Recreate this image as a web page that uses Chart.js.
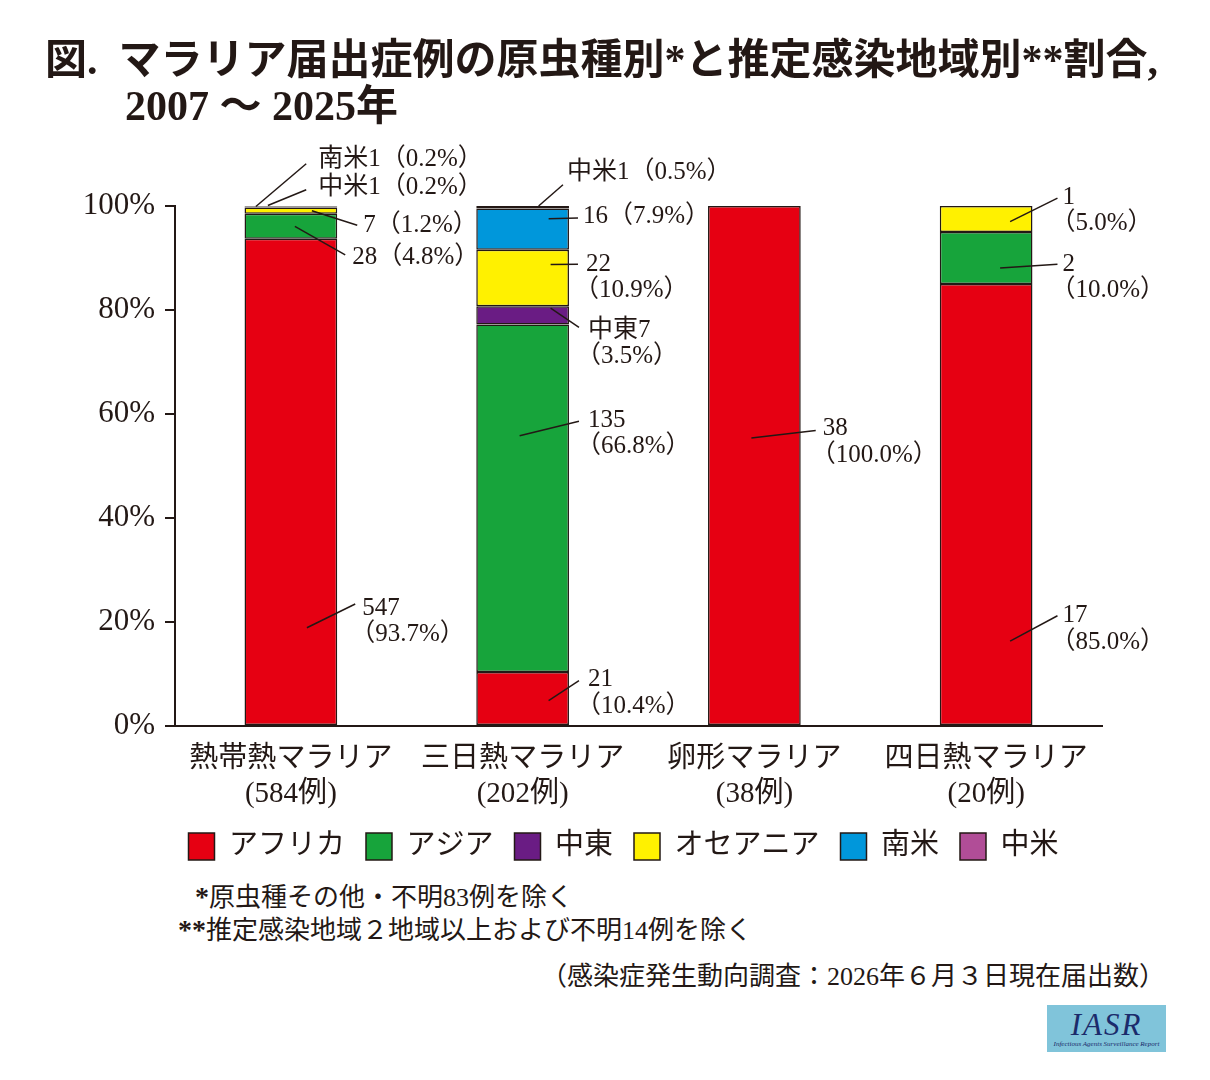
<!DOCTYPE html>
<html lang="ja">
<head>
<meta charset="utf-8">
<title>マラリア届出症例の原虫種別と推定感染地域別割合</title>
<script src="https://cdn.jsdelivr.net/npm/chart.js@4.4.1/dist/chart.umd.min.js"></script>
<style>
  body { margin: 0; background: #fff; color: #231815; font-family: "Liberation Serif", "Noto Sans CJK JP", serif; }
  #wrap { position: relative; width: 1210px; height: 1080px; overflow: hidden; }
  #chart { position: absolute; left: 0; top: 0; }
  #title { position: absolute; left: 45px; top: 37px; font-size: 42px; font-weight: bold; line-height: 46px; white-space: nowrap; }
  #title .yr { padding-left: 80px; }
  .note { position: absolute; font-size: 26px; line-height: 30px; white-space: nowrap; }
  .note b { font-weight: bold; font-size: 28px; }
  #logo { position: absolute; left: 1047px; top: 1005px; width: 119px; height: 47px; background: #80c4da;
          text-align: center; color: #1b2b6b; font-family: "Liberation Serif", serif; font-style: italic; }
  #logo .big { font-size: 31px; line-height: 31px; padding-top: 4px; letter-spacing: 2px; }
  #logo .small { font-size: 7px; line-height: 9px; }
</style>
</head>
<body>
<div id="wrap">
  <canvas id="chart" width="1210" height="881"></canvas>
  <div id="title">図.&nbsp;&nbsp;マラリア届出症例の原虫種別*と推定感染地域別**割合,<br><span class="yr">2007 ～ 2025年</span></div>
  <div class="note" style="left:195px; top:882px;"><b>*</b>原虫種その他・不明83例を除く</div>
  <div class="note" style="left:178px; top:915px;"><b>**</b>推定感染地域２地域以上および不明14例を除く</div>
  <div class="note" style="right:45px; top:962px;">（感染症発生動向調査：2026年６月３日現在届出数）</div>
  <div id="logo"><div class="big">IASR</div><div class="small">Infectious Agents Surveillance Report</div></div>
</div>
<script>
// categories
var species = ['熱帯熱マラリア', '三日熱マラリア', '卵形マラリア', '四日熱マラリア'];
var speciesTotals = [584, 202, 38, 20];
var regions = ['アフリカ', 'アジア', '中東', 'オセアニア', '南米', '中米'];
var regionColors = ['#e60012', '#17a43b', '#6a1c84', '#fff100', '#0097db', '#b14d97'];

// case counts per region (one value per species)
var africaCases = [547, 21, 38, 17];
var asiaCases = [28, 135, 0, 2];
var middleEastCases = [0, 7, 0, 0];
var oceaniaCases = [7, 22, 0, 1];
var southAmericaCases = [1, 16, 0, 0];
var centralAmericaCases = [1, 1, 0, 0];

// percentages as printed on the chart
var africaPct = [93.7, 10.4, 100.0, 85.0];
var asiaPct = [4.8, 66.8, 0, 10.0];
var middleEastPct = [0, 3.5, 0, 0];
var oceaniaPct = [1.2, 10.9, 0, 5.0];
var southAmericaPct = [0.2, 7.9, 0, 0];
var centralAmericaPct = [0.2, 0.5, 0, 0];

var yTicks = [0, 20, 40, 60, 80, 100];

var caseSeries = [africaCases, asiaCases, middleEastCases, oceaniaCases, southAmericaCases, centralAmericaCases];
var pctSeries = [africaPct, asiaPct, middleEastPct, oceaniaPct, southAmericaPct, centralAmericaPct];

var ink = '#231815';
var family = '"Liberation Serif", "Noto Sans CJK JP", serif';

// callout placement: ds/i pick the bar segment, at = where in the segment the leader starts,
// ax = leader start offset from bar centre, tx = text offset from bar right edge, tv = text row on the y scale
var callouts = [
    { ds: 4, i: 0, name: '南米', inline: true, at: 1,    ax: -35, tx: -19, tv: 108.9, ex: 12, ey: 4 },
    { ds: 5, i: 0, name: '中米', inline: true, at: 1,    ax: -23, tx: -19, tv: 103.5, ex: 12, ey: 2 },
    { ds: 3, i: 0, inline: true,               at: 0.5,  ax: 21,  tx: 26,  tv: 96.3,  ex: 6,  ey: 0 },
    { ds: 1, i: 0, inline: true,               at: 0.5,  ax: 4,   tx: 15,  tv: 90.2,  ex: 7,  ey: -2 },
    { ds: 0, i: 0,                             at: 0.2,  ax: 16,  tx: 25,  tv: 22.7,  ex: 7,  ey: -4 },
    { ds: 5, i: 1, name: '中米', inline: true, at: 1,    ax: 16,  tx: -2,  tv: 106.4, ex: 4,  ey: 12 },
    { ds: 4, i: 1, inline: true,               at: 0.75, ax: 26,  tx: 14,  tv: 97.9,  ex: 5,  ey: 1 },
    { ds: 3, i: 1,                             at: 0.74, ax: 28,  tx: 17,  tv: 88.8,  ex: 8,  ey: 0 },
    { ds: 2, i: 1, name: '中東',               at: 0.9,  ax: 28,  tx: 19,  tv: 76.1,  ex: 9,  ey: -3 },
    { ds: 1, i: 1,                             at: 0.68, ax: -3,  tx: 19,  tv: 58.8,  ex: 9,  ey: 1 },
    { ds: 0, i: 1,                             at: 0.46, ax: 26,  tx: 19,  tv: 8.9,   ex: 9,  ey: 1 },
    { ds: 0, i: 2,                             at: 0.553, ax: -3, tx: 22,  tv: 57.2,  ex: 7,  ey: 2 },
    { ds: 3, i: 3,                             at: 0.4,  ax: 24,  tx: 30,  tv: 101.7, ex: 5,  ey: 1 },
    { ds: 1, i: 3,                             at: 0.31, ax: 14,  tx: 30,  tv: 88.8,  ex: 5,  ey: 0 },
    { ds: 0, i: 3,                             at: 0.19, ax: 24,  tx: 30,  tv: 21.2,  ex: 5,  ey: 0 }
];

var calloutPlugin = {
    id: 'callouts',
    afterLayout: function (chart) {
        // legend sits a bit left of the plot centre in the original
        chart.legend.left -= 15;
        chart.legend.right -= 15;
    },
    afterDatasetsDraw: function (chart) {
        var ctx = chart.ctx;
        var yScale = chart.scales.y;
        ctx.save();
        ctx.strokeStyle = ink;
        ctx.fillStyle = ink;
        ctx.lineWidth = 1.5;
        ctx.font = '25px ' + family;
        ctx.textBaseline = 'middle';
        ctx.textAlign = 'left';
        for (var c of callouts) {
            var bar = chart.getDatasetMeta(c.ds).data[c.i];
            var ax = bar.x + c.ax;
            var ay = bar.base + (bar.y - bar.base) * c.at;
            var tx = bar.x + bar.width / 2 + c.tx;
            var ty = yScale.getPixelForValue(c.tv);
            ctx.beginPath();
            ctx.moveTo(ax, ay);
            ctx.lineTo(tx - c.ex, ty + c.ey);
            ctx.stroke();
            var count = (c.name || '') + caseSeries[c.ds][c.i];
            var pct = '（' + pctSeries[c.ds][c.i].toFixed(1) + '%）';
            if (c.inline) {
                ctx.fillText(count + pct, tx, ty);
            } else {
                ctx.fillText(count, tx, ty);
                // full-width paren sits right in its box, pull it back to line up
                ctx.fillText(pct, tx - 12, ty + 26.5);
            }
        }
        ctx.restore();
    }
};

new Chart(document.getElementById('chart'), {
    type: 'bar',
    data: {
        labels: species.map(function (s, k) { return [s, '(' + speciesTotals[k] + '例)']; }),
        datasets: regions.map(function (r, k) {
            return {
                label: r,
                // empty segments would still paint a border line, so leave them out
                data: pctSeries[k].map(function (v) { return v === 0 ? null : v; }),
                backgroundColor: regionColors[k],
                borderColor: ink,
                borderWidth: 1.5,
                borderSkipped: false,
                categoryPercentage: 1.0,
                barPercentage: 0.4
            };
        })
    },
    options: {
        responsive: false,
        animation: false,
        layout: { padding: { top: 206, left: 60, right: 108, bottom: 10 } },
        scales: {
            x: {
                stacked: true,
                afterFit: function (scale) { scale.height = 85; },
                grid: { display: false, drawTicks: false },
                border: { display: true, color: ink, width: 2 },
                ticks: { color: ink, padding: 16, font: { family: family, size: 29, lineHeight: 1.2 } }
            },
            y: {
                stacked: true,
                min: 0,
                max: 100,
                afterFit: function (scale) { scale.width = 115; },
                afterBuildTicks: function (scale) { scale.ticks = yTicks.map(function (v) { return { value: v }; }); },
                grid: { drawOnChartArea: false, drawTicks: true, tickLength: 10, color: ink, lineWidth: 2 },
                border: { display: true, color: ink, width: 2 },
                ticks: {
                    padding: 10,
                    color: ink,
                    font: { family: family, size: 31 },
                    callback: function (value) { return value + '%'; }
                }
            }
        },
        plugins: {
            legend: {
                position: 'bottom',
                fullSize: false,
                labels: { color: ink, boxWidth: 26, boxHeight: 27, padding: 21, font: { family: family, size: 29 } }
            },
            tooltip: { enabled: false }
        }
    },
    plugins: [calloutPlugin]
});
</script>
</body>
</html>
